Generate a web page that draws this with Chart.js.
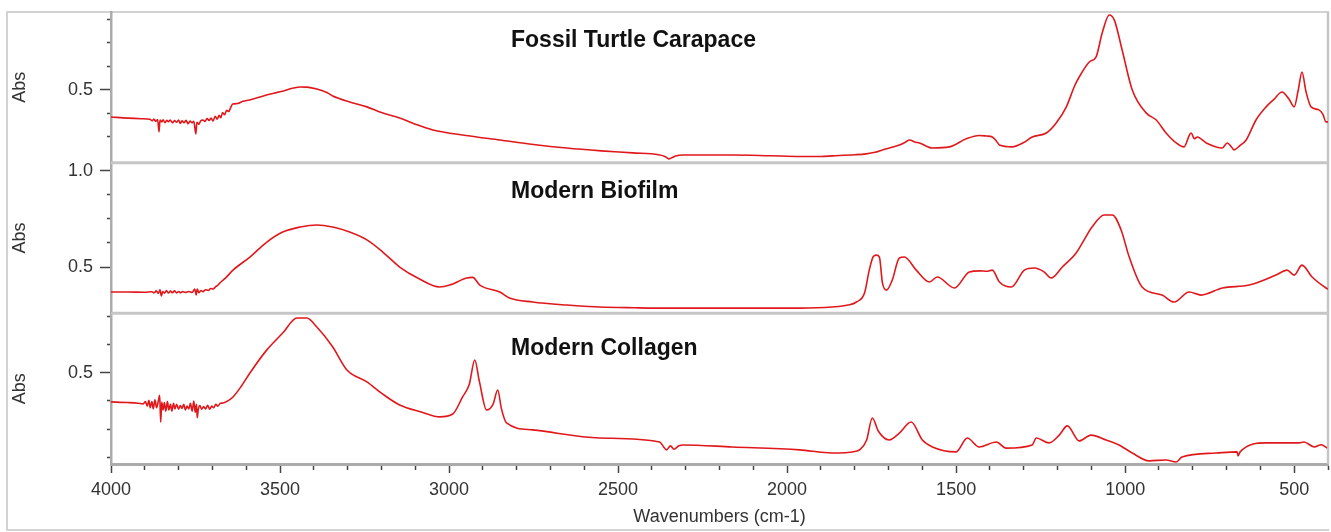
<!DOCTYPE html>
<html><head><meta charset="utf-8">
<script src="https://cdn.jsdelivr.net/npm/chart.js@4.4.0/dist/chart.umd.min.js"></script>
<style>
html,body{margin:0;padding:0;background:#fff;}
#wrap{position:relative;width:1331px;height:532px;overflow:hidden;}
#frame{position:absolute;left:6px;top:11px;width:1323px;height:520px;border-left:2px solid #d2d2d2;border-top:2px solid #d2d2d2;border-bottom:2px solid #d2d2d2;box-sizing:border-box;}
canvas{position:absolute;left:0;top:0;}
</style></head><body>
<div id="wrap"><div id="frame"></div><canvas id="c" width="1331" height="532"></canvas></div>
<script>
// ---- data ----
const panelTitles = ['Fossil Turtle Carapace', 'Modern Biofilm', 'Modern Collagen'];

const fossilWn = [4000,3950,3910,3885,3878,3873,3868,3862,3858,3855,3850,3846,3840,3835,3830,3825,3818,3812,3806,3800,3795,3790,3784,3778,3772,3766,3760,3755,3749,3746,3740,3735,3728,3722,3716,3710,3704,3698,3692,3686,3680,3675,3670,3664,3658,3652,3645,3640,3625,3610,3590,3560,3540,3500,3460,3441,3420,3391,3360,3344,3294,3243,3200,3146,3100,3048,2950,2850,2750,2652,2550,2457,2380,2360,2350,2340,2330,2309,2250,2162,2050,1963,1900,1866,1800,1766,1740,1718,1690,1668,1650,1638,1620,1609,1570,1520,1470,1432,1410,1393,1380,1372,1334,1300,1275,1233,1204,1174,1150,1136,1106,1086,1068,1047,1032,1009,979,938,908,879,849,826,810,805,795,787,760,713,698,685,678,660,642,613,583,560,536,515,500,488,477,465,450,427,415,406,400];
const fossilAbs = [0.356,0.350,0.347,0.344,0.336,0.345,0.333,0.342,0.277,0.340,0.330,0.341,0.326,0.339,0.331,0.340,0.325,0.337,0.328,0.340,0.322,0.336,0.326,0.338,0.320,0.334,0.325,0.333,0.266,0.328,0.318,0.335,0.340,0.332,0.348,0.338,0.350,0.335,0.360,0.345,0.365,0.352,0.380,0.368,0.392,0.385,0.410,0.425,0.428,0.440,0.447,0.462,0.473,0.490,0.510,0.516,0.515,0.505,0.485,0.468,0.436,0.410,0.380,0.351,0.318,0.287,0.258,0.234,0.210,0.191,0.176,0.165,0.155,0.145,0.133,0.140,0.148,0.154,0.154,0.154,0.150,0.146,0.146,0.149,0.155,0.160,0.168,0.181,0.195,0.207,0.222,0.234,0.222,0.218,0.191,0.197,0.240,0.258,0.255,0.250,0.226,0.207,0.197,0.220,0.250,0.271,0.324,0.410,0.520,0.569,0.649,0.676,0.803,0.899,0.872,0.713,0.500,0.378,0.340,0.271,0.218,0.197,0.260,0.271,0.240,0.250,0.218,0.191,0.218,0.195,0.181,0.205,0.234,0.340,0.410,0.450,0.489,0.450,0.410,0.500,0.596,0.490,0.410,0.394,0.370,0.330,0.330];

const biofilmWn = [4000,3950,3900,3880,3872,3866,3860,3855,3851,3847,3842,3836,3830,3824,3818,3812,3806,3800,3794,3788,3780,3770,3760,3752,3748,3745,3740,3734,3728,3720,3712,3705,3698,3690,3684,3678,3660,3639,3589,3539,3492,3441,3391,3344,3294,3243,3196,3146,3090,3028,2998,2948,2930,2909,2850,2821,2753,2652,2555,2450,2357,2162,1963,1866,1820,1795,1771,1757,1745,1736,1727,1718,1706,1689,1668,1653,1618,1579,1556,1505,1461,1430,1410,1393,1372,1337,1298,1269,1240,1219,1186,1145,1130,1098,1062,1038,1012,988,950,891,855,811,775,713,633,554,521,500,477,447,406,400];
const biofilmAbs = [0.370,0.370,0.369,0.371,0.366,0.376,0.362,0.382,0.350,0.372,0.364,0.377,0.365,0.375,0.366,0.376,0.365,0.373,0.366,0.372,0.368,0.373,0.368,0.385,0.355,0.386,0.366,0.378,0.372,0.382,0.378,0.388,0.386,0.398,0.405,0.417,0.445,0.484,0.552,0.630,0.682,0.708,0.719,0.708,0.682,0.641,0.578,0.500,0.440,0.396,0.406,0.443,0.446,0.406,0.370,0.339,0.318,0.302,0.292,0.288,0.286,0.286,0.286,0.292,0.302,0.318,0.365,0.484,0.555,0.562,0.552,0.417,0.380,0.432,0.547,0.552,0.484,0.422,0.448,0.391,0.474,0.480,0.478,0.484,0.422,0.396,0.484,0.495,0.475,0.443,0.500,0.573,0.615,0.708,0.771,0.771,0.693,0.552,0.396,0.354,0.318,0.370,0.354,0.391,0.406,0.458,0.484,0.458,0.510,0.448,0.391,0.385];

const collagenWn = [4000,3950,3920,3905,3898,3893,3888,3884,3879,3875,3870,3865,3860,3856,3853,3850,3846,3842,3838,3833,3829,3824,3820,3815,3811,3806,3800,3795,3790,3785,3780,3775,3770,3765,3760,3755,3751,3747,3745,3742,3737,3732,3726,3720,3714,3708,3702,3696,3690,3684,3676,3669,3650,3639,3615,3589,3539,3492,3450,3421,3391,3344,3302,3243,3200,3146,3080,3028,2989,2960,2940,2924,2910,2889,2870,2856,2845,2830,2753,2555,2377,2365,2357,2345,2335,2320,2309,2162,1963,1866,1800,1786,1765,1748,1730,1698,1668,1633,1600,1570,1500,1467,1432,1381,1352,1275,1263,1225,1195,1171,1136,1101,1056,1018,979,929,879,849,832,731,669,666,660,583,486,471,440,420,403];
const collagenAbs = [0.371,0.368,0.365,0.362,0.372,0.352,0.378,0.345,0.372,0.340,0.380,0.345,0.375,0.400,0.280,0.370,0.335,0.368,0.330,0.372,0.335,0.360,0.330,0.365,0.340,0.360,0.338,0.355,0.342,0.360,0.335,0.352,0.340,0.365,0.330,0.375,0.325,0.360,0.300,0.335,0.355,0.338,0.350,0.340,0.356,0.338,0.352,0.345,0.360,0.352,0.365,0.366,0.380,0.393,0.440,0.500,0.603,0.678,0.745,0.745,0.705,0.616,0.513,0.460,0.410,0.357,0.325,0.304,0.317,0.393,0.450,0.558,0.460,0.335,0.360,0.424,0.340,0.277,0.246,0.210,0.192,0.170,0.157,0.175,0.160,0.175,0.179,0.170,0.157,0.143,0.150,0.157,0.200,0.299,0.240,0.201,0.232,0.281,0.201,0.170,0.148,0.210,0.170,0.192,0.165,0.179,0.210,0.188,0.223,0.264,0.197,0.223,0.201,0.179,0.143,0.108,0.112,0.103,0.125,0.143,0.148,0.130,0.148,0.188,0.188,0.192,0.170,0.180,0.165];

// tick values
const fossilTicks = [0.25,0.375,0.5,0.625,0.75,0.875];
const biofilmTicks = [0.5,0.625,0.75,0.875,1.0];
const collagenTicks = [0.125,0.25,0.375,0.5,0.625,0.75];
const labeledY = [0.5, 1.0];
const xRange = [400, 4000];
const xMajorStep = 500, xMinorStep = 100;

const FONT = "'Liberation Sans', Arial, Helvetica, sans-serif";
const LINE = 'rgb(224,24,28)';
const AXIS = '#ababab';
const TICK = '#444';
const TXT = '#333';

function pts(wn, ab){ return wn.map((w,i)=>({x:w, y:ab[i]})); }

function yAxis(min, max, ticks){
  return {
    type:'linear', position:'left', stack:'abs', stackWeight:1, min:min, max:max,
    afterBuildTicks: s => { s.ticks = ticks.map(v=>({value:v})); },
    afterFit: s => { s.width = 111; s.paddingTop = 0; s.paddingBottom = 0; },
    ticks:{ autoSkip:false, padding:7, color:TXT, font:{family:FONT,size:18},
      callback: v => labeledY.includes(v) ? v.toFixed(1) : '' },
    grid:{ drawOnChartArea:false, tickLength:11, tickColor:TICK, tickWidth:1.5,
      tickBorderDash: c => (c.tick && labeledY.includes(c.tick.value)) ? [] : [0,7,4,40] },
    border:{ color:AXIS, width:2.5 },
    title:{ display:true, text:'Abs', color:TXT, font:{family:FONT,size:18}, padding:{top:9,bottom:0} }
  };
}

const panelPlugin = {
  id:'panels',
  beforeDatasetsDraw(chart){
    const ctx = chart.ctx, a = chart.chartArea, s = chart.scales;
    ctx.save();
    ctx.strokeStyle = '#c6c6c6';
    ctx.lineWidth = 3;
    [s.yBiofilm.top, s.yCollagen.top].forEach(y=>{
      ctx.beginPath(); ctx.moveTo(a.left, y); ctx.lineTo(a.right, y); ctx.stroke();
    });
    ctx.lineWidth = 2.5;
    ctx.beginPath(); ctx.moveTo(a.right, a.top); ctx.lineTo(a.right, a.bottom); ctx.stroke();
    ctx.restore();
  },
  afterDatasetsDraw(chart){
    const ctx = chart.ctx, a = chart.chartArea, s = chart.scales;
    const ids = ['yFossil','yBiofilm','yCollagen'];
    const dys = [35, 35, 42];
    ctx.save();
    ctx.fillStyle = '#111';
    ctx.font = 'bold 23px ' + FONT;
    ctx.textBaseline = 'alphabetic';
    ctx.textAlign = 'left';
    ids.forEach((id,i)=>{ ctx.fillText(panelTitles[i], a.left + 400, s[id].top + dys[i]); });
    ctx.restore();
  }
};

const ds = (wn, ab, yid) => ({ data: pts(wn,ab), yAxisID:yid, xAxisID:'x', borderColor:LINE, borderWidth:1.6, pointRadius:0, cubicInterpolationMode:'monotone', fill:false });

new Chart(document.getElementById('c'), {
  type:'line',
  data:{ datasets:[ ds(fossilWn,fossilAbs,'yFossil'), ds(biofilmWn,biofilmAbs,'yBiofilm'), ds(collagenWn,collagenAbs,'yCollagen') ] },
  options:{
    responsive:false, animation:false, devicePixelRatio:1,
    layout:{ padding:{ left:0, right:3, top:12, bottom:0 } },
    plugins:{ legend:{display:false}, tooltip:{enabled:false} },
    scales:{
      x:{ type:'linear', reverse:true, min:xRange[0], max:xRange[1], position:'bottom',
        afterFit: s => { s.height = 68; s.paddingLeft = 0; s.paddingRight = 0; },
        ticks:{ stepSize:xMinorStep, autoSkip:false, maxRotation:0, padding:6, color:TXT, font:{family:FONT,size:18},
          callback: v => (v % xMajorStep === 0) ? String(v) : '' },
        grid:{ drawOnChartArea:false, tickLength:9, tickColor:TICK, tickWidth:1.5,
          tickBorderDash: c => (c.tick && c.tick.value % xMajorStep === 0) ? [] : [4,40] },
        border:{ color:AXIS, width:3 },
        title:{ display:true, text:'Wavenumbers (cm-1)', color:TXT, font:{family:FONT,size:18}, padding:{top:0,bottom:4} }
      },
      yCollagen: yAxis(0.094, 0.766, collagenTicks),
      yBiofilm: yAxis(0.259, 1.043, biofilmTicks),
      yFossil: yAxis(0.113, 0.915, fossilTicks)
    }
  },
  plugins:[panelPlugin]
});
</script>
</body></html>
